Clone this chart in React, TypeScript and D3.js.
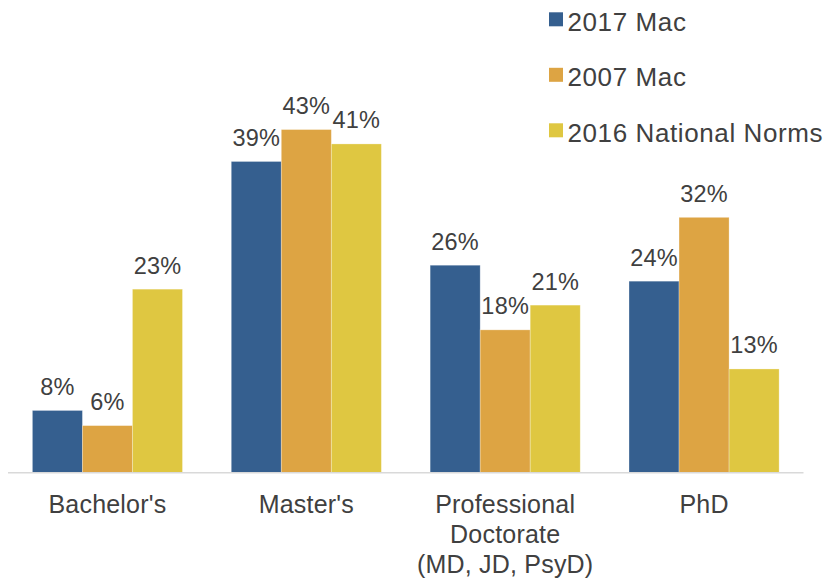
import React from "react";
import * as d3 from "d3";

const categories = ["Bachelor's", "Master's", "Professional\nDoctorate\n(MD, JD, PsyD)", "PhD"];
const seriesNames = ["2017 Mac", "2007 Mac", "2016 National Norms"];
const mac2017 = [7.8, 39, 26, 24];
const mac2007 = [5.9, 43, 17.9, 32];
const norms2016 = [23, 41.2, 21, 13];
const seriesValues = [mac2017, mac2007, norms2016];
const colors = ["#355f8f", "#dda443", "#dfc741"];

const W = 839;
const H = 582;
const textColor = "#404040";
const font = "Arial, 'Liberation Sans', Helvetica, sans-serif";

export default function App() {
  const baseline = 472.7;
  const x0 = d3.scaleBand<string>().domain(categories).range([8, 803.5]).padding(0);
  const x1 = d3
    .scaleBand<string>()
    .domain(seriesNames)
    .range([0, x0.bandwidth()])
    .paddingInner(0)
    .paddingOuter(0.4875);
  const y = d3.scaleLinear().domain([0, 50]).range([baseline, baseline - 50 * 7.98]);

  return (
    <svg
      width={W}
      height={H}
      style={{ position: "absolute", left: 0, top: 0, background: "#fff" }}
      fontFamily={font}
    >
      <rect width={W} height={H} fill="#fff" />
      {categories.map((cat, ci) => (
        <g key={cat} transform={`translate(${x0(cat)},0)`}>
          {seriesNames.map((s, si) => {
            const v = seriesValues[si][ci];
            const bx = x1(s)!;
            const bw = x1.bandwidth();
            return (
              <g key={s}>
                <rect
                  x={bx}
                  y={y(v)}
                  width={bw}
                  height={baseline - y(v)}
                  fill={colors[si]}
                  stroke="#ffffff"
                  strokeOpacity={0.35}
                  strokeWidth={0.8}
                />
                <text
                  x={bx + bw / 2}
                  y={y(v) - 15.5}
                  textAnchor="middle"
                  fontSize={23.5}
                  letterSpacing={0.2}
                  fill={textColor}
                >
                  {`${Math.round(v)}%`}
                </text>
              </g>
            );
          })}
          {cat.split("\n").map((line, li) => (
            <text
              key={li}
              x={x0.bandwidth() / 2}
              y={513.3 + li * 29.8}
              textAnchor="middle"
              fontSize={25}
              letterSpacing={0.2}
              fill={textColor}
            >
              {line}
            </text>
          ))}
        </g>
      ))}
      <line x1={8} x2={803.5} y1={baseline} y2={baseline} stroke="#d9d9d9" strokeWidth={1.5} />
      {seriesNames.map((s, si) => (
        <g key={s} transform={`translate(549,${12.3 + si * 55.5})`}>
          <rect x={0} y={0} width={14} height={14} fill={colors[si]} />
          <text x={18.5} y={18.4} fontSize={26} letterSpacing={0.6} fill={textColor}>
            {s}
          </text>
        </g>
      ))}
    </svg>
  );
}
